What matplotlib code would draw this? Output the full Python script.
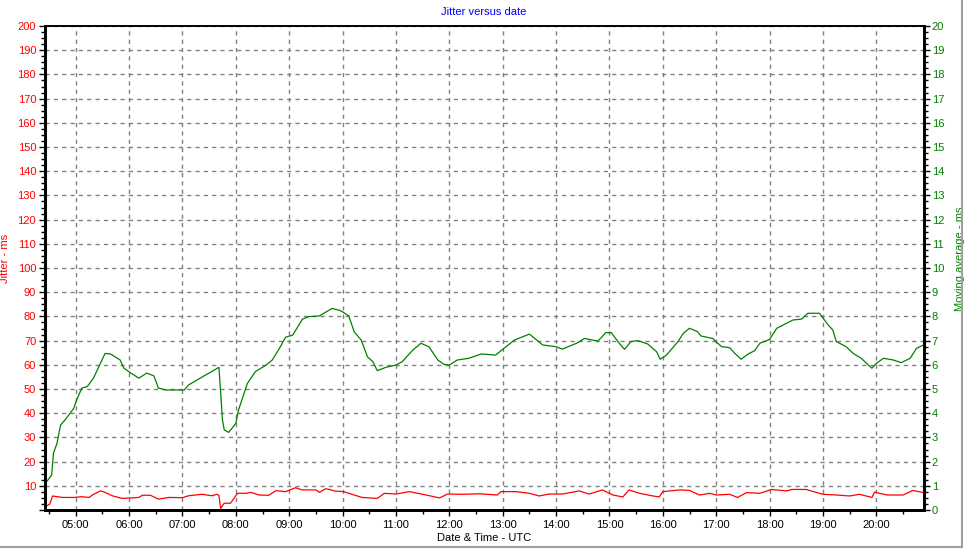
import matplotlib
matplotlib.use("Agg")
import matplotlib.pyplot as plt
import matplotlib.dates as mdates
from matplotlib.ticker import MultipleLocator, FuncFormatter
from matplotlib.lines import Line2D
import pandas as pd

plt.rcParams["font.family"] = ["Liberation Sans", "DejaVu Sans"]
plt.rcParams["font.size"] = 8

# moving average (right axis, ms)
avg_time = ["04:26", "04:33", "04:35", "04:39", "04:43", "04:48", "04:58", "05:01", "05:07", "05:13",
            "05:20", "05:26", "05:33", "05:39", "05:50", "05:54", "06:02", "06:11", "06:20", "06:28",
            "06:33", "06:41", "07:02", "07:07", "07:26", "07:33", "07:41", "07:43", "07:45", "07:47",
            "07:52", "08:00", "08:03", "08:13", "08:22", "08:34", "08:41", "08:49", "08:56", "09:04",
            "09:15", "09:22", "09:34", "09:48", "09:56", "10:00", "10:07", "10:13", "10:21", "10:28",
            "10:34", "10:39", "10:49", "11:00", "11:07", "11:19", "11:28", "11:37", "11:47", "11:54",
            "12:00", "12:09", "12:22", "12:36", "12:52", "13:00", "13:13", "13:30", "13:45", "14:00",
            "14:07", "14:23", "14:32", "14:47", "14:56", "15:02", "15:11", "15:17", "15:24", "15:32",
            "15:43", "15:53", "15:57", "16:04", "16:17", "16:23", "16:30", "16:39", "16:43", "16:56",
            "17:06", "17:15", "17:21", "17:28", "17:36", "17:43", "17:49", "18:00", "18:08", "18:15",
            "18:26", "18:36", "18:43", "18:56", "19:06", "19:11", "19:15", "19:26", "19:34", "19:43",
            "19:49", "19:55", "20:00", "20:08", "20:19", "20:28", "20:38", "20:45", "20:53"]
avg_ms = [1.10, 1.45, 2.34, 2.76, 3.51, 3.72, 4.21, 4.55, 5.04, 5.10,
          5.45, 5.92, 6.47, 6.45, 6.20, 5.87, 5.66, 5.45, 5.66, 5.54,
          5.04, 4.96, 4.96, 5.17, 5.58, 5.72, 5.90, 4.83, 3.72, 3.31,
          3.21, 3.58, 4.13, 5.23, 5.72, 5.99, 6.20, 6.68, 7.14, 7.23,
          7.89, 7.99, 8.02, 8.33, 8.26, 8.19, 8.02, 7.37, 7.02, 6.33,
          6.13, 5.76, 5.90, 5.99, 6.13, 6.61, 6.89, 6.75, 6.20, 6.02,
          5.99, 6.20, 6.27, 6.45, 6.40, 6.64, 7.02, 7.27, 6.82, 6.75,
          6.65, 6.89, 7.09, 6.98, 7.33, 7.33, 6.89, 6.64, 6.96, 7.00,
          6.86, 6.54, 6.23, 6.40, 6.96, 7.30, 7.51, 7.37, 7.19, 7.09,
          6.75, 6.71, 6.47, 6.23, 6.45, 6.58, 6.89, 7.05, 7.51, 7.64,
          7.85, 7.89, 8.13, 8.13, 7.64, 7.44, 6.96, 6.75, 6.47, 6.27,
          6.06, 5.86, 6.06, 6.27, 6.20, 6.09, 6.27, 6.68, 6.82]

# jitter (left axis, ms)
jit_time = ["04:26", "04:31", "04:34", "04:45", "04:58", "05:07", "05:15", "05:20", "05:28", "05:33",
            "05:41", "05:52", "06:02", "06:11", "06:15", "06:24", "06:33", "06:45", "07:00", "07:07",
            "07:22", "07:33", "07:39", "07:41", "07:43", "07:47", "07:54", "08:02", "08:11", "08:17",
            "08:26", "08:37", "08:45", "08:56", "09:07", "09:15", "09:30", "09:34", "09:41", "09:45",
            "09:52", "10:01", "10:13", "10:22", "10:39", "10:47", "11:00", "11:15", "11:34", "11:49",
            "11:58", "12:15", "12:34", "12:54", "12:58", "13:15", "13:30", "13:41", "13:52", "14:07",
            "14:26", "14:37", "14:52", "15:04", "15:15", "15:22", "15:34", "15:49", "15:56", "16:00",
            "16:19", "16:30", "16:41", "16:53", "17:00", "17:15", "17:24", "17:34", "17:49", "18:02",
            "18:19", "18:25", "18:41", "19:00", "19:15", "19:30", "19:41", "19:55", "19:58", "20:12",
            "20:30", "20:41", "20:53"]
jit_ms = [1.4, 2.5, 5.8, 5.2, 5.2, 5.5, 5.2, 6.5, 7.9, 7.3,
          5.9, 4.8, 5.0, 5.2, 6.1, 6.1, 4.5, 5.2, 5.1, 5.9,
          6.5, 5.9, 6.5, 6.0, 0.7, 2.8, 2.8, 6.9, 6.9, 7.3,
          6.2, 6.1, 8.0, 7.6, 9.2, 8.3, 8.3, 7.3, 8.8, 8.5,
          7.8, 7.6, 6.2, 5.2, 4.8, 6.9, 6.6, 7.6, 6.2, 5.0,
          6.6, 6.5, 6.7, 6.2, 7.6, 7.6, 6.9, 5.8, 6.6, 6.6,
          7.9, 6.6, 8.3, 6.2, 5.4, 8.3, 6.9, 5.8, 5.4, 7.6,
          8.3, 8.1, 6.2, 6.9, 6.2, 6.5, 5.2, 7.2, 6.9, 8.5,
          7.9, 8.5, 8.5, 6.5, 6.2, 5.8, 6.5, 5.2, 7.4, 6.2,
          6.2, 8.1, 7.2]

avg_x = pd.to_datetime(["2000-01-01 " + t for t in avg_time])
jit_x = pd.to_datetime(["2000-01-01 " + t for t in jit_time])

fig = plt.figure(figsize=(9.64, 5.49), dpi=100)
ax = fig.add_axes([0.0462, 0.0710, 0.9118, 0.8816])
ax2 = ax.twinx()

ax.plot(jit_x, jit_ms, color="#ff0000", lw=0.9)
ax2.plot(avg_x, avg_ms, color="#008000", lw=0.9)

ax.set_xlim(pd.Timestamp("2000-01-01 04:25"), pd.Timestamp("2000-01-01 20:53"))
ax.set_ylim(0, 200)
ax2.set_ylim(0, 20)

ax.xaxis.set_major_locator(mdates.HourLocator())
ax.xaxis.set_minor_locator(mdates.MinuteLocator(byminute=[30]))
ax.xaxis.set_major_formatter(mdates.DateFormatter("%H:%M"))
ax.yaxis.set_major_locator(MultipleLocator(10))
ax.yaxis.set_minor_locator(MultipleLocator(2.5))
ax.yaxis.set_major_formatter(FuncFormatter(lambda v, p: "" if v == 0 else "%d" % v))
ax2.yaxis.set_major_locator(MultipleLocator(1))
ax2.yaxis.set_minor_locator(MultipleLocator(0.25))

ax.grid(True, which="major", color="#808080", linestyle=(0, (3, 3)), lw=1)
ax.set_axisbelow(True)

ax.tick_params(axis="y", which="both", colors="black", labelcolor="#ff0000", labelsize=8, pad=2)
ax.tick_params(axis="x", which="both", labelsize=8, pad=3)
ax.tick_params(which="major", length=4, width=1)
ax.tick_params(which="minor", length=3, width=1)
ax2.tick_params(axis="y", which="both", labelcolor="#008000", labelsize=8, pad=2)
ax2.tick_params(which="major", length=4, width=1)
ax2.tick_params(which="minor", length=3, width=1)

for a in (ax, ax2):
    for s in ("left", "bottom", "right"):
        a.spines[s].set_linewidth(2)
    a.spines["top"].set_linewidth(1.2)

ax.set_title("Jitter versus date", color="#0000ff", fontsize=8, pad=8)
ax.set_xlabel("Date & Time - UTC", fontsize=8, labelpad=2)
ax.set_ylabel("Jitter - ms", color="#ff0000", fontsize=8)
ax.yaxis.set_label_coords(-0.039, 0.52)
ax2.set_ylabel("Moving average - ms", color="#008000", fontsize=8)
ax2.yaxis.set_label_coords(1.036, 0.52)

# panel border on right and bottom
fig.add_artist(Line2D([961.5 / 964, 961.5 / 964], [2.5 / 549, 1], color="#a0a0a0", lw=1.5))
fig.add_artist(Line2D([0, 961.5 / 964], [2.5 / 549, 2.5 / 549], color="#a0a0a0", lw=1.5))

fig.savefig("out.png", dpi=100)
